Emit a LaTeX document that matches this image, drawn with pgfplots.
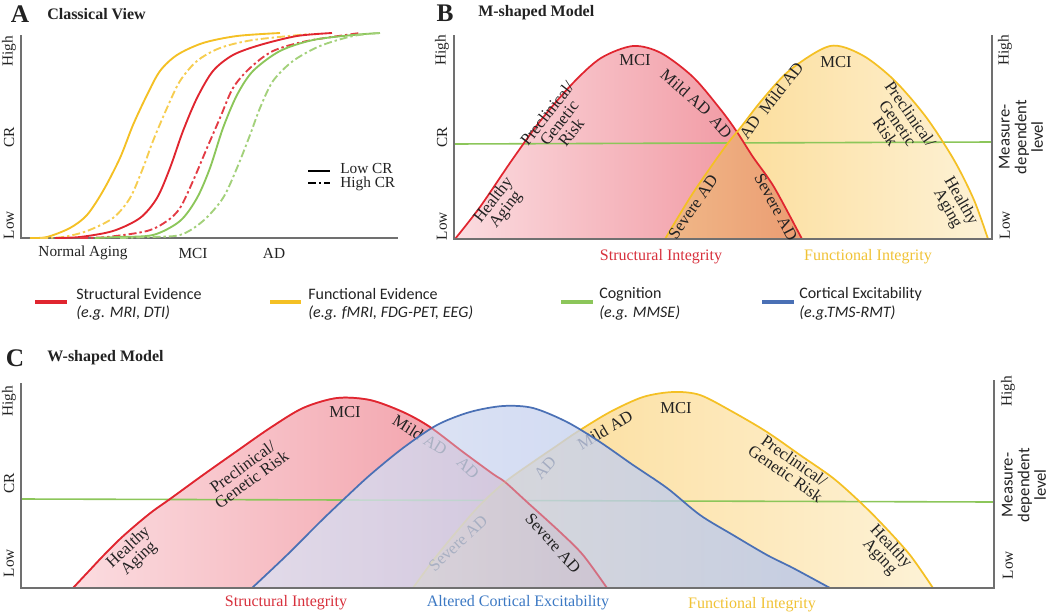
\documentclass[border=0pt]{standalone}
\usepackage{pgfplots}
\usepackage{pgfplotstable}
\pgfplotsset{compat=1.18}
\usepackage{fontspec}
\setmainfont{Liberation Serif}
\newfontfamily\legfont{Carlito}

\definecolor{axgray}{HTML}{707070}
\definecolor{cred}{HTML}{E0252F}
\definecolor{cyel}{HTML}{F4C024}
\definecolor{cgreen}{HTML}{8CC65A}
\definecolor{cblue}{HTML}{4A70B5}
\definecolor{pinkL}{HTML}{FBDCE0}
\definecolor{pinkR}{HTML}{EF8C97}
\definecolor{yelL}{HTML}{FCD88C}
\definecolor{yelR}{HTML}{FDF2D6}
\definecolor{orL}{HTML}{F0B888}
\definecolor{orR}{HTML}{EB9C72}
\definecolor{bluL}{HTML}{DCE2F3}
\definecolor{bluM}{HTML}{AABBE3}
\definecolor{bluR}{HTML}{B6C5EA}
\definecolor{tred}{HTML}{D7303C}
\definecolor{tyel}{HTML}{F0C235}
\definecolor{tblue}{HTML}{3B78C3}
\definecolor{txt}{HTML}{222222}

% ---------- Panel A data (pixel coordinates, y downward) ----------
\pgfplotstableread{
x y
30 238
47 237
70 228
87 215
103 191
120 158
133 125
147 95
160 71
177 55
203 43
237 36
280 33
}\Ays
\pgfplotstableread{
x y
40 238
63 237
87 231
113 218
130 198
143 168
153 141
167 108
180 81
197 61
220 48
253 40
310 34
}\Ayd
\pgfplotstableread{
x y
55 238
80 237
113 231
140 218
157 198
170 168
183 131
197 98
213 71
233 55
260 45
297 36
332 33
}\Ars
\pgfplotstableread{
x y
80 238
107 237
147 231
167 221
180 208
193 181
207 148
220 118
233 88
250 68
273 51
307 41
360 33
}\Ard
\pgfplotstableread{
x y
95 238
117 237
153 235
180 221
197 198
210 168
223 128
237 95
253 71
280 51
313 40
353 35
380 33
}\Ags
\pgfplotstableread{
x y
120 238
147 237
180 235
203 221
223 198
237 168
250 135
260 108
273 81
293 61
320 46
353 36
380 33
}\Agd

% ---------- Panel B data ----------
\pgfplotstableread{
x y
455 239
480 207
512 160
541 120
573 83
601 58
633 46
661 53
693 77
721 110
737 132
753 157
774 187
802 239
}\Bred
\pgfplotstableread{
x y
665 239
693 193
725 147
741 127
762 100
790 70
830 46
862 55
894 80
926 117
954 160
974 200
988 239
}\Byel
\pgfplotstableread{
x y
665 239
693 193
725 147
737 132
753 157
774 187
802 239
}\Bov

% ---------- Panel C data ----------
\pgfplotstableread{
x y
73 588
88 572
103 556
120 539
137 524
153 511
170 499
203 475
237 451
270 428
303 408
337 398
370 400
403 412
430 427
463 452
493 474
505 482
527 502
560 532
583 555
607 588
}\Cred
\pgfplotstableread{
x y
413 588
435 558
458 530
480 505
505 482
533 462
555 447
577 432
610 412
643 397
673 392
700 395
733 412
767 432
800 455
833 478
860 502
883 525
910 555
933 588
}\Cyel
\pgfplotstableread{
x y
252 588
287 555
320 522
343 500
370 475
403 448
437 425
470 412
503 406
533 408
567 422
600 442
633 465
667 488
700 515
733 535
767 555
793 568
830 588
}\Cblue
\pgfplotstableread{
x y
413 588
435 558
458 530
480 505
505 482
527 502
560 532
583 555
607 588
}\Cov

\pgfplotsset{
  panel/.style={x=0.75pt, y=0.75pt, y dir=reverse, hide axis, clip=false,
    enlargelimits=false, anchor=north west},
}
\tikzset{
  lab/.style={font=\fontsize{12.5}{11.5}\selectfont, align=center, inner sep=0pt, text=txt},
  alab/.style={font=\fontsize{11.5}{12}\selectfont, inner sep=0pt, text=txt},
  rlab/.style={font=\fontsize{11.5}{12}\selectfont, inner sep=0pt, text=txt, rotate=90},
  mlab/.style={font=\legfont\fontsize{12.5}{12.5}\selectfont, inner sep=0pt, text=txt, rotate=90, align=center},
  blab/.style={font=\fontsize{12}{13}\selectfont, inner sep=0pt},
  dd/.style={dash pattern=on 6pt off 2.2pt on 1.8pt off 2.2pt},
  ttl/.style={font=\bfseries\fontsize{12}{14}\selectfont, anchor=west, inner sep=0pt, text=txt},
  big/.style={font=\bfseries\fontsize{19}{20}\selectfont, inner sep=0pt, text=txt},
  leg/.style={font=\legfont\fontsize{12}{14}\selectfont, anchor=west, inner sep=0pt, text=txt},
  legi/.style={font=\legfont\itshape\fontsize{12}{14}\selectfont, anchor=west, inner sep=0pt, text=txt},
}

\begin{document}
\begin{tikzpicture}
\path[use as bounding box] (0,0) rectangle (787.5pt,-460.5pt);

% ================= Canvas: titles and legend row =================
\begin{axis}[panel, xmin=0, xmax=1050, ymin=0, ymax=614, at={(0pt,0pt)}]
\node[big] at (axis cs:20,14) {A};
\node[ttl] at (axis cs:47,14) {Classical View};
\node[big] at (axis cs:445,13) {B};
\node[ttl] at (axis cs:478,13) {M-shaped Model};
\node[big] at (axis cs:15,358) {C};
\node[ttl] at (axis cs:47,358) {W-shaped Model};
% legend row
\addplot[cred, line width=2.4pt] coordinates {(35,302) (67,302)};
\addplot[cyel, line width=2.4pt] coordinates {(270,302) (301,302)};
\addplot[cgreen, line width=2.4pt] coordinates {(561,302) (593,302)};
\addplot[cblue, line width=2.4pt] coordinates {(762,302) (794,302)};
\node[leg] at (axis cs:76,294) {Structural Evidence};
\node[legi] at (axis cs:76,313) {(e.g. MRI, DTI)};
\node[leg] at (axis cs:308,294) {Functional Evidence};
\node[legi] at (axis cs:308,313) {(e.g. fMRI, FDG-PET, EEG)};
\node[leg] at (axis cs:599,294) {Cognition};
\node[legi] at (axis cs:599,313) {(e.g. MMSE)};
\node[leg] at (axis cs:799,294) {Cortical Excitability};
\node[legi] at (axis cs:799,313) {(e.g.TMS-RMT)};
\end{axis}

% ================= Panel A =================
\begin{axis}[panel, xmin=21, xmax=398, ymin=33, ymax=238, at={(15.75pt,-24.75pt)}]
\draw[axgray, line width=1.2pt] (axis cs:21,35) -- (axis cs:21,238) -- (axis cs:398,238);
\addplot[cyel, line width=1.4pt, smooth] table {\Ays};
\addplot[cyel!80, line width=1.4pt, smooth, dd] table {\Ayd};
\addplot[cred, line width=1.4pt, smooth] table {\Ars};
\addplot[cred!90, line width=1.4pt, smooth, dd] table {\Ard};
\addplot[cgreen, line width=1.4pt, smooth] table {\Ags};
\addplot[cgreen!80, line width=1.4pt, smooth, dd] table {\Agd};
\node[rlab] at (axis cs:9,51) {High};
\node[rlab] at (axis cs:9,137) {CR};
\node[rlab] at (axis cs:9,225) {Low};
\node[alab] at (axis cs:83,253) {Normal Aging};
\node[alab] at (axis cs:193,253) {MCI};
\node[alab] at (axis cs:274,253) {AD};
\addplot[black, line width=1.4pt] coordinates {(308,171) (330,171)};
\addplot[black, line width=1.4pt, dd] coordinates {(308,183) (330,183)};
\node[alab, anchor=west] at (axis cs:340,168) {Low CR};
\node[alab, anchor=west] at (axis cs:340,184) {High CR};
\end{axis}

% ================= Panel B =================
\begin{axis}[panel, xmin=454, xmax=992, ymin=35, ymax=239, at={(340.5pt,-26.25pt)}]
\addplot[draw=none, left color=pinkL, right color=pinkR, smooth] table {\Bred} -- cycle;
\addplot[draw=none, left color=yelL, right color=yelR, smooth] table {\Byel} -- cycle;
\addplot[cgreen, line width=1.2pt] coordinates {(454,144) (992,142)};
\addplot[draw=none, left color=orL, right color=orR] table {\Bov} -- cycle;
\addplot[cred, line width=1.3pt, smooth] table {\Bred};
\addplot[cyel, line width=1.3pt, smooth] table {\Byel};
\draw[axgray, line width=1.2pt] (axis cs:454,35) -- (axis cs:454,239) -- (axis cs:992,239) -- (axis cs:992,35);
% red labels
\node[lab, rotate=52] at (axis cs:500,205) {Healthy\\Aging};
\node[lab, rotate=52] at (axis cs:559,123) {Preclinical/\\Genetic\\Risk};
\node[lab] at (axis cs:635,60) {MCI};
\node[lab, rotate=-41] at (axis cs:686,92) {Mild AD};
\node[lab, rotate=-50] at (axis cs:721,127) {AD};
\node[lab, rotate=-62] at (axis cs:776,207) {Severe AD};
% yellow labels
\node[lab, rotate=55] at (axis cs:693,207) {Severe AD};
\node[lab, rotate=55] at (axis cs:750,127) {AD};
\node[lab, rotate=52] at (axis cs:781,88) {Mild AD};
\node[lab] at (axis cs:836,62) {MCI};
\node[lab, rotate=-55] at (axis cs:898,123) {Preclinical/\\Genetic\\Risk};
\node[lab, rotate=-60] at (axis cs:954,205) {Healthy\\Aging};
% axis texts
\node[rlab] at (axis cs:442,50) {High};
\node[rlab] at (axis cs:442,137) {CR};
\node[rlab] at (axis cs:442,226) {Low};
\node[rlab] at (axis cs:1005,50) {High};
\node[mlab] at (axis cs:1021,137) {Measure-\\dependent\\level};
\node[rlab] at (axis cs:1005,225) {Low};
\node[blab, text=tred] at (axis cs:661,257) {Structural Integrity};
\node[blab, text=tyel] at (axis cs:868,257) {Functional Integrity};
\end{axis}

% ================= Panel C =================
\begin{axis}[panel, xmin=21, xmax=994, ymin=382, ymax=588, at={(15.75pt,-286.5pt)}]
\addplot[draw=none, left color=pinkL, right color=pinkR, smooth] table {\Cred} -- cycle;
\addplot[draw=none, left color=yelL, right color=yelR, smooth] table {\Cyel} -- cycle;
\addplot[cgreen, line width=1.2pt] coordinates {(21,499) (994,502)};
\addplot[draw=none, left color=orL, right color=orR] table {\Cov} -- cycle;
\addplot[cred, line width=1.3pt, smooth] table {\Cred};
\addplot[cyel, line width=1.3pt, smooth] table {\Cyel};
% labels under the blue layer
\node[lab, rotate=43] at (axis cs:134,553) {Healthy\\Aging};
\node[lab, rotate=36] at (axis cs:247,473) {Preclinical/\\Genetic Risk};
\node[lab] at (axis cs:345,412) {MCI};
\node[lab, rotate=-32] at (axis cs:420,435) {Mild AD};
\node[lab, rotate=-45] at (axis cs:468,468) {AD};
\node[lab, rotate=43] at (axis cs:458,543) {Severe AD};
\node[lab, rotate=48] at (axis cs:545,468) {AD};
\node[lab, rotate=30] at (axis cs:605,430) {Mild AD};
\node[lab] at (axis cs:676,408) {MCI};
\node[lab, rotate=-35] at (axis cs:790,467) {Preclinical/\\Genetic Risk};
\node[lab, rotate=-47] at (axis cs:885,552) {Healthy\\Aging};
% blue layer
\addplot[draw=none, left color=bluL, middle color=bluM, right color=bluR, fill opacity=0.78, smooth] table {\Cblue} -- cycle;
\addplot[cblue, line width=1.3pt, smooth] table {\Cblue};
\addplot[cred, line width=1.3pt, smooth, draw opacity=0.45] table {\Cred};
\node[lab, rotate=-48] at (axis cs:553,543) {Severe AD};
\draw[axgray, line width=1.2pt] (axis cs:21,383) -- (axis cs:21,588) -- (axis cs:994,588) -- (axis cs:994,380);
\node[rlab] at (axis cs:9,401) {High};
\node[rlab] at (axis cs:9,483) {CR};
\node[rlab] at (axis cs:9,563) {Low};
\node[rlab] at (axis cs:1008,391) {High};
\node[mlab] at (axis cs:1024,485) {Measure-\\dependent\\level};
\node[rlab] at (axis cs:1008,565) {Low};
\node[blab, text=tred] at (axis cs:286,603) {Structural Integrity};
\node[blab, text=tblue] at (axis cs:518,603) {Altered Cortical Excitability};
\node[blab, text=tyel] at (axis cs:752,605) {Functional Integrity};
\end{axis}
\end{tikzpicture}
\end{document}
